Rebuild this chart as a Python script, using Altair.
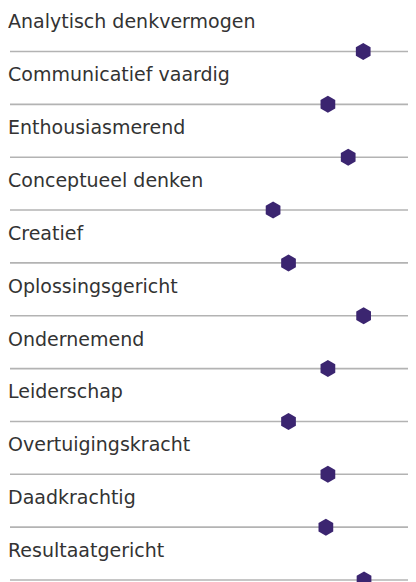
import altair as alt
import pandas as pd

labels = [
    "Analytisch denkvermogen",
    "Communicatief vaardig",
    "Enthousiasmerend",
    "Conceptueel denken",
    "Creatief",
    "Oplossingsgericht",
    "Ondernemend",
    "Leiderschap",
    "Overtuigingskracht",
    "Daadkrachtig",
    "Resultaatgericht",
]
scores = [87, 78.3, 83.3, 64.8, 68.6, 87.1, 78.3, 68.6, 78.3, 77.8, 87.2]
scale_min = 0
scale_max = 100

df = pd.DataFrame({
    "label": labels,
    "score": scores,
    "row": list(range(1, len(labels) + 1)),
    "lo": [scale_min] * len(labels),
    "hi": [scale_max] * len(labels),
})

PX_PER_UNIT = 4.06
ROW_STEP = 52.85
W = 398
H = 580
xs = alt.Scale(domain=[scale_min, scale_min + W / PX_PER_UNIT], nice=False, zero=False)
ys_lo = 0.177
ys = alt.Scale(domain=[ys_lo, ys_lo + H / ROW_STEP], nice=False, zero=False, reverse=True)

base = alt.Chart(df)

rules = base.mark_rule(color="#b3b3b3", strokeWidth=1.6).encode(
    x=alt.X("lo:Q", scale=xs, axis=None),
    x2="hi:Q",
    y=alt.Y("row:Q", scale=ys, axis=None),
)

hexagon = "M0,-1L0.866,-0.5L0.866,0.5L0,1L-0.866,0.5L-0.866,-0.5Z"
points = base.mark_point(
    shape=hexagon, size=289, filled=True, opacity=1, color="#3b2570"
).encode(
    x=alt.X("score:Q", scale=xs, axis=None),
    y=alt.Y("row:Q", scale=ys, axis=None),
)

texts = base.mark_text(
    align="left", baseline="alphabetic", dy=-23, fontSize=19,
    font="DejaVu Sans", color="#333333"
).encode(
    x=alt.value(-2),
    y=alt.Y("row:Q", scale=ys, axis=None),
    text="label:N",
)

chart = (
    alt.layer(rules, points, texts)
    .properties(
        width=W, height=H,
        padding={"left": 2, "top": 0, "right": 0, "bottom": 0},
        autosize=alt.AutoSizeParams(type="none"),
    )
    .configure_view(stroke=None)
)

chart.save("out.html", embed_options={"renderer": "svg", "actions": False})
